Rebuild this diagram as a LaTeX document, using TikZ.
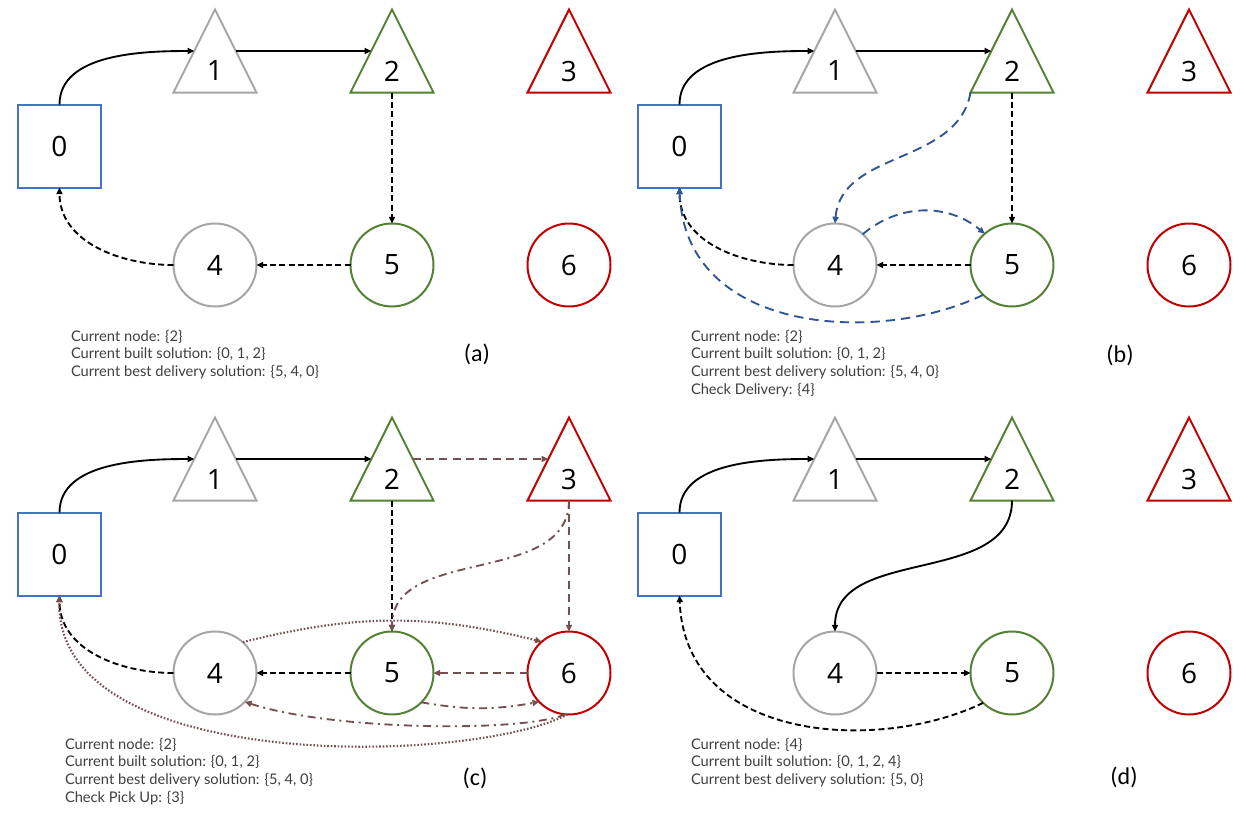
\documentclass[tikz,border=0pt]{standalone}
\usepackage{fontspec}
\setmainfont{Open Sans}
\newfontfamily\txtfont{Lato}
\newfontfamily\capfont{Carlito}
\usetikzlibrary{shapes.geometric,arrows.meta,calc}
\definecolor{cblue}{HTML}{4472C4}
\definecolor{cgray}{HTML}{A6A6A6}
\definecolor{cgreen}{HTML}{548235}
\definecolor{cred}{HTML}{C00000}
\definecolor{cdblue}{HTML}{2F5597}
\definecolor{cbrown}{HTML}{765050}
\definecolor{ctext}{HTML}{404040}
\newcommand\digfont{\fontsize{21}{24}\selectfont}
\newcommand\infofont{\txtfont\fontsize{11}{13.3}\selectfont}
\newcommand\panfont{\capfont\fontsize{18}{20}\selectfont}
\tikzset{
  every node/.style={outer sep=0pt},
  sq/.style={rectangle, draw=cblue, line width=1.5pt, minimum size=62.25pt, inner sep=0pt, font=\digfont},
  tri/.style={isosceles triangle, shape border rotate=90, isosceles triangle stretches,
     minimum width=62.25pt, minimum height=62.25pt, inner sep=0pt, line width=1.5pt, anchor=apex},
  circ/.style={circle, line width=1.5pt, minimum size=62.25pt, inner sep=0pt, font=\digfont},
  dig/.style={inner sep=0pt, font=\digfont},
  info/.style={anchor=north west, align=left, inner sep=0pt, font=\infofont, text=ctext},
  pan/.style={inner sep=0pt, font=\panfont},
  tipA/.style={-{Triangle[length=5pt,width=4.5pt]}},
  solidarr/.style={line width=1.4pt, tipA},
  dasharr/.style={line width=1.4pt, tipA, dash pattern=on 4.5pt off 2.5pt},
  bluearr/.style={line width=1.4pt, draw=cdblue, tipA, dash pattern=on 7pt off 4.5pt},
  brdash/.style={line width=1.4pt, draw=cbrown, tipA, dash pattern=on 6pt off 4pt},
  brdot/.style={line width=1.6pt, draw=cbrown, tipA, dash pattern=on 1.2pt off 1.4pt},
  brdashdot/.style={line width=1.4pt, draw=cbrown, tipA, dash pattern=on 6pt off 3.5pt on 1.5pt off 3.5pt},
}
\newcommand\basenodes{%
  \node[sq] (n0) at (59.5,-146) {0};
  \node[tri, draw=cgray] (n1) at (215,-9.5) {};
  \node[dig] (t1) at (215,-71) {1};
  \node[tri, draw=cgreen] (n2) at (392,-9.5) {};
  \node[dig] (t2) at (392,-71) {2};
  \node[tri, draw=cred] (n3) at (569,-9.5) {};
  \node[dig] (t3) at (569,-71) {3};
  \node[circ, draw=cgray] (n4) at (215,-265) {4};
  \node[circ, draw=cgreen] (n5) at (392,-265) {5};
  \node[circ, draw=cred] (n6) at (569,-265) {6};
  \draw[solidarr] (n0.north) to[out=90,in=180,looseness=0.9] (n1.left side);
  \draw[solidarr] (n1.right side) -- (n2.left side);
}
\begin{document}
\begin{tikzpicture}[x=0.75pt,y=0.75pt]
\fill[white] (0,0) rectangle (1258,-815);
\useasboundingbox (0,0) rectangle (1258,-815);

% ---------- (a)
\begin{scope}[name prefix=a-]
  \basenodes
  \draw[dasharr] (n2.lower side) -- (n5.north);
  \draw[dasharr] (n5.west) -- (n4.east);
  \draw[dasharr] (n4.west) to[out=180,in=-90] (n0.south);
  \node[info] (info) at (71,-330) {Current node: \{2\}\\Current built solution: \{0, 1, 2\}\\Current best delivery solution: \{5, 4, 0\}};
  \node[pan] (lab) at (477,-354) {(a)};
\end{scope}

% ---------- (b)
\begin{scope}[shift={(620,0)}, name prefix=b-]
  \basenodes
  \draw[dasharr] (n2.lower side) -- (n5.north);
  \draw[dasharr] (n5.west) -- (n4.east);
  \draw[dasharr] (n4.west) to[out=180,in=-90] (n0.south);
  \draw[bluearr] (n2.left corner) to[out=-100,in=85] (n4.north);
  \draw[bluearr] (n4.48) to[bend left=40] (n5.131);
  \draw[bluearr] (n5.226) .. controls (260,-345) and (65,-335) .. (n0.south);
  \node[info] (info) at (71,-330) {Current node: \{2\}\\Current built solution: \{0, 1, 2\}\\Current best delivery solution: \{5, 4, 0\}\\Check Delivery: \{4\}};
  \node[pan] (lab) at (500,-355) {(b)};
\end{scope}

% ---------- (c)
\begin{scope}[shift={(0,-408)}, name prefix=c-]
  \basenodes
  \draw[brdash] (n2.right side) -- (n3.left side);
  \draw[dasharr] (n2.lower side) -- (n5.north);
  \draw[brdash] (n3.lower side) -- (n6.north);
  \draw[brdashdot] (n3.lower side) to[out=-90,in=90] (n5.north);
  \draw[brdash] (n6.west) -- (n5.east);
  \draw[dasharr] (n5.west) -- (n4.east);
  \draw[dasharr] (n4.west) to[out=180,in=-90] (n0.south);
  \draw[brdot] (n4.48) to[bend left=14] (n6.131);
  \draw[brdashdot] (n5.-45) to[bend right=10] (n6.-136);
  \draw[brdashdot] (n6.-95) .. controls (520,-325) and (330,-322) .. (n4.-44);
  \draw[brdot] (n6.-92) .. controls (470,-357) and (55,-367) .. (n0.south);
  \node[info] (info) at (65,-330) {Current node: \{2\}\\Current built solution: \{0, 1, 2\}\\Current best delivery solution: \{5, 4, 0\}\\Check Pick Up: \{3\}};
  \node[pan] (lab) at (475,-370) {(c)};
\end{scope}

% ---------- (d)
\begin{scope}[shift={(620,-408)}, name prefix=d-]
  \basenodes
  \draw[solidarr] (n2.lower side) to[out=-90,in=90] (n4.north);
  \draw[dasharr] (n4.east) -- (n5.west);
  \draw[dasharr] (n5.226) .. controls (260,-345) and (65,-335) .. (n0.south);
  \node[info] (info) at (71,-330) {Current node: \{4\}\\Current built solution: \{0, 1, 2, 4\}\\Current best delivery solution: \{5, 0\}};
  \node[pan] (lab) at (504,-369) {(d)};
\end{scope}
\end{tikzpicture}
\end{document}
